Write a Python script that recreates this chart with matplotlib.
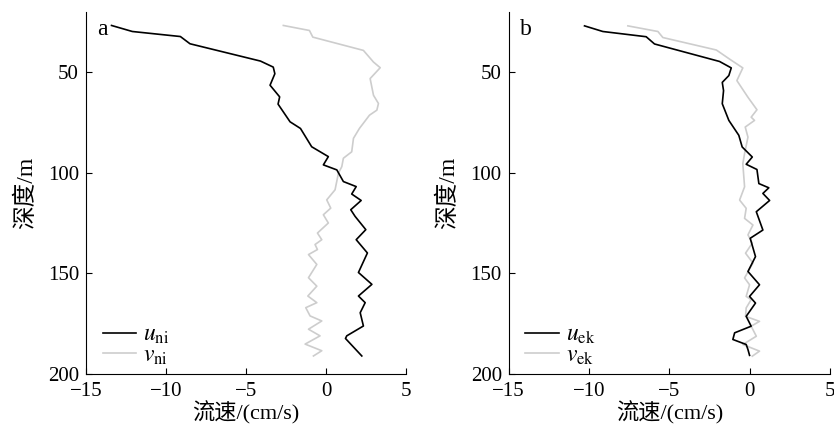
"""Two-panel current velocity profiles (near-inertial vs Ekman) → out.png."""
import matplotlib
matplotlib.use("Agg")
import matplotlib.pyplot as plt

# panel a: near-inertial components
depth_u_ni = [26.7, 29.7, 32.2, 35.8, 44.4, 47.4, 50.7, 56.4, 62.2, 65.8, 74.6, 77.9,
              87.0, 91.9, 96.0, 98.5, 104.3, 106.8, 110.5, 113.7, 118.3, 121.6, 128.2,
              133.2, 139.8, 149.5, 155.4, 161.2, 164.5, 169.5, 176.1, 181.0, 182.3, 191.0]
u_ni = [-13.4, -12.1, -9.1, -8.5, -4.1, -3.3, -3.2, -3.5, -2.9, -3.0, -2.25, -1.6,
        -0.9, 0.14, -0.17, 0.67, 1.08, 1.88, 1.6, 2.19, 1.54, 1.81, 2.48,
        1.88, 2.58, 2.02, 2.86, 2.02, 2.44, 2.13, 2.33, 1.29, 1.21, 2.23]

depth_v_ni = [26.7, 29.2, 32.5, 39.1, 44.9, 47.7, 53.1, 61.4, 65.5, 68.8, 71.3, 77.9,
              82.8, 89.5, 92.7, 96.9, 100.1, 108.4, 113.4, 117.5, 120.8, 124.9, 129.9,
              133.2, 135.6, 138.1, 140.6, 145.5, 152.1, 156.3, 161.2, 164.5, 167.0,
              171.1, 173.6, 177.7, 181.0, 185.1, 188.4, 191.0]
v_ni = [-2.67, -1.04, -0.83, 2.33, 2.96, 3.38, 2.75, 2.96, 3.27, 3.17, 2.71, 2.08,
        1.71, 1.6, 1.08, 0.98, 0.77, 0.56, 0.04, 0.29, -0.17, 0.14, -0.54,
        -0.27, -0.69, -0.54, -1.1, -0.58, -1.1, -0.58, -1.14, -0.58, -1.27,
        -1.0, -0.27, -1.1, -0.38, -1.31, -0.27, -0.79]

# panel b: Ekman components
depth_u_ek = [26.9, 29.7, 32.3, 35.9, 44.6, 47.8, 51.6, 55.0, 59.1, 65.6, 73.9, 81.3,
              87.1, 92.1, 95.7, 98.3, 105.3, 107.4, 110.2, 113.7, 119.3, 128.4, 132.5,
              141.6, 149.0, 155.6, 161.4, 164.7, 171.3, 176.2, 179.5, 182.8, 185.3,
              187.8, 190.7]
u_ek = [-10.28, -9.14, -6.44, -5.92, -1.87, -1.14, -1.29, -1.7, -1.62, -1.7, -1.29, -0.67,
        -0.46, 0.17, -0.21, 0.46, 0.58, 1.2, 0.83, 1.25, 0.42, 0.83, 0.04,
        0.37, -0.1, 0.62, 0.0, 0.37, -0.21, 0.1, -0.93, -1.04, -0.21,
        -0.1, 0.0]

depth_v_ek = [26.9, 29.7, 32.7, 38.9, 43.4, 47.8, 54.1, 62.4, 68.6, 72.3, 73.9, 77.2,
              82.2, 90.4, 95.4, 106.9, 113.5, 117.6, 122.6, 125.9, 130.8, 134.9, 139.9,
              144.8, 152.2, 155.6, 161.4, 163.0, 167.1, 171.3, 173.8, 176.2, 181.2,
              185.3, 188.6, 191.1]
v_ek = [-7.58, -5.71, -5.4, -2.07, -1.25, -0.42, -0.79, -0.1, 0.46, 0.1, 0.31, -0.27,
        -0.1, -0.31, -0.42, -0.31, -0.62, -0.21, -0.31, 0.21, -0.1, 0.17, -0.25,
        0.21, -0.31, 0.0, -0.21, 0.1, -0.21, -0.25, 0.62, 0.1, 0.42,
        -0.42, 0.62, 0.17]

x_ticks = [-15, -10, -5, 0, 5]
y_ticks = [50, 100, 150, 200]

FONT = ["Liberation Serif", "Noto Sans CJK SC"]
plt.rcParams["font.family"] = FONT
plt.rcParams["mathtext.fontset"] = "stix"

BLACK = "black"
GREY = "#cdcdcd"

fig = plt.figure(figsize=(8.34, 4.28), dpi=100)
ax_a = fig.add_axes([0.103, 0.126, 0.384, 0.846])
ax_b = fig.add_axes([0.610, 0.126, 0.385, 0.846])

panels = [
    (ax_a, "a", depth_u_ni, u_ni, depth_v_ni, v_ni, "ni"),
    (ax_b, "b", depth_u_ek, u_ek, depth_v_ek, v_ek, "ek"),
]
for ax, letter, du, u, dv, v, sub in panels:
    ax.plot(v, dv, color=GREY, lw=1.2, label=rf"$v_{{\mathrm{{{sub}}}}}$")
    ax.plot(u, du, color=BLACK, lw=1.2, label=rf"$u_{{\mathrm{{{sub}}}}}$")
    ax.set_xlim(-15, 5)
    ax.set_ylim(200, 20)
    ax.set_xticks(x_ticks)
    ax.set_yticks(y_ticks)
    ax.tick_params(direction="in", length=4, width=0.8, labelsize=15)
    ax.tick_params(axis="x", pad=6)
    ax.tick_params(axis="y", pad=5)
    for side in ("top", "right"):
        ax.spines[side].set_visible(False)
    ax.set_xlabel("流速/(cm/s)", fontsize=16, labelpad=0)
    ax.set_ylabel("深度/m", fontsize=17, labelpad=8)
    ax.text(0.035, 0.98, letter, transform=ax.transAxes, ha="left", va="top", fontsize=17)
    handles, labels = ax.get_legend_handles_labels()
    ax.legend(handles[::-1], labels[::-1], loc="lower left", bbox_to_anchor=(0.03, 0.0),
              frameon=False, fontsize=17, handlelength=1.4, handletextpad=0.3,
              labelspacing=-0.05, borderaxespad=0.1, borderpad=0.2)

fig.savefig("out.png", dpi=100)
